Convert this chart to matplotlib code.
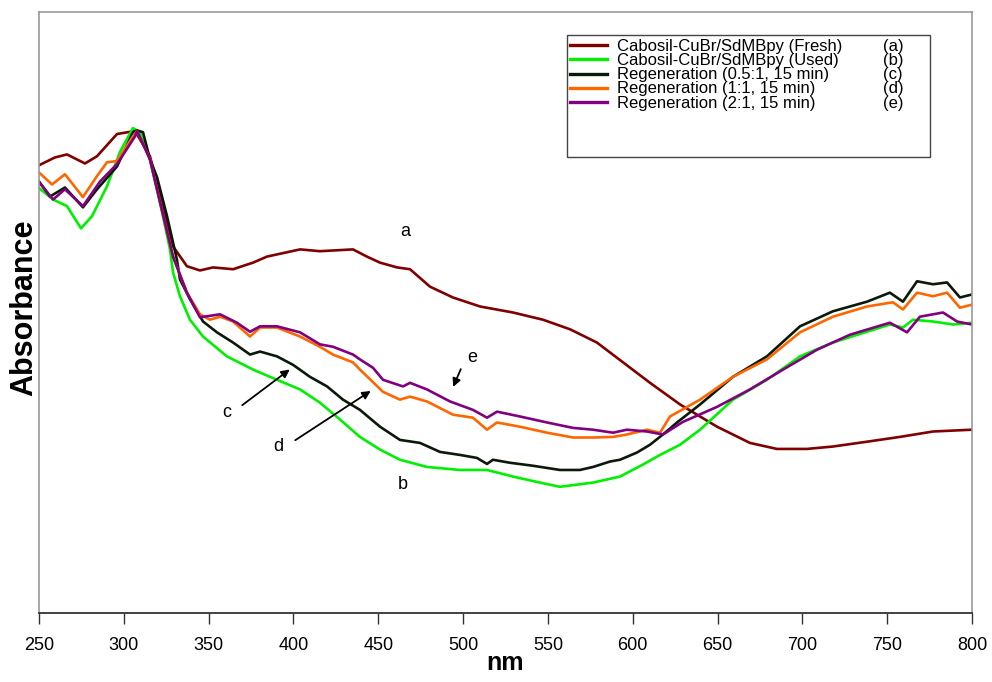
"""
UV-Vis spectra of the Cabosil-CuBr/SdMBpy catalyst: fresh, used and
regenerated samples. Writes out.png.
"""

import matplotlib

matplotlib.use("Agg")
import matplotlib.pyplot as plt
from matplotlib.patches import Rectangle

# wavelength (nm) / absorbance (a.u.) pairs for each sample
FRESH_NM = [250, 259.4, 266.5, 277.1, 284.2, 296, 306.6, 315.4, 323.1, 329,
            337.2, 344.9, 352.6, 364.4, 376.2, 384.4, 403.9, 415.6, 435.1,
            443.3, 451, 461.1, 468.7, 480.5, 494, 510, 529.4, 547.1, 563.1,
            578.9, 594.3, 610.2, 627.9, 649.7, 669.1, 685, 702.7, 718, 738.1,
            757.5, 777, 800]
FRESH_ABS = [0.745, 0.758, 0.763, 0.748, 0.760, 0.797, 0.802, 0.760, 0.677,
             0.610, 0.577, 0.570, 0.575, 0.572, 0.583, 0.593, 0.605, 0.602,
             0.605, 0.593, 0.583, 0.575, 0.572, 0.543, 0.525, 0.510, 0.500,
             0.488, 0.472, 0.450, 0.417, 0.383, 0.347, 0.310, 0.283, 0.273,
             0.273, 0.277, 0.285, 0.293, 0.302, 0.305]

USED_NM = [250, 258.3, 266.5, 274.8, 281.2, 290.1, 297.7, 305.4, 309.5, 315.4,
           323.1, 327.2, 329, 333.1, 339, 346.7, 360.8, 376.2, 390.3, 403.9,
           415.6, 427.4, 439.2, 451, 462.8, 478.7, 498.2, 514.1, 529.4, 545.3,
           557.1, 576.6, 592.5, 606, 616.1, 627.9, 639.7, 659.1, 679.1, 698.6,
           718, 738.1, 751.6, 759.3, 765.2, 777, 788.8, 800]
USED_ABS = [0.707, 0.688, 0.677, 0.640, 0.660, 0.710, 0.767, 0.807, 0.800,
            0.755, 0.660, 0.605, 0.567, 0.527, 0.488, 0.460, 0.427, 0.405,
            0.388, 0.372, 0.350, 0.322, 0.293, 0.272, 0.255, 0.243, 0.238,
            0.238, 0.227, 0.217, 0.210, 0.217, 0.227, 0.247, 0.263, 0.280,
            0.305, 0.355, 0.388, 0.427, 0.450, 0.468, 0.480, 0.475, 0.488,
            0.485, 0.480, 0.483]

REGEN_05_NM = [250, 256.5, 265.3, 275.9, 284.2, 296, 305.4, 307.8, 311.3,
               315.4, 319.6, 325.5, 331.3, 333.1, 339, 346.7, 354.9, 364.4,
               374.4, 380.3, 390.3, 399.7, 409.7, 419.8, 429.2, 439.2, 451,
               462.8, 474.6, 486.4, 498.2, 508.2, 514.1, 517.6, 527.6, 541.2,
               557.1, 568.9, 576.6, 586.6, 592.5, 602.5, 610.2, 617.8, 626.1,
               639.7, 659.1, 679.1, 698.6, 718, 738.1, 751.6, 759.3, 767.6,
               777, 785.3, 792.9, 800]
REGEN_05_ABS = [0.718, 0.693, 0.708, 0.675, 0.705, 0.743, 0.800, 0.803, 0.800,
                0.755, 0.725, 0.660, 0.588, 0.555, 0.522, 0.485, 0.467, 0.450,
                0.430, 0.435, 0.427, 0.413, 0.393, 0.377, 0.355, 0.338, 0.310,
                0.288, 0.283, 0.268, 0.263, 0.258, 0.248, 0.255, 0.250, 0.245,
                0.238, 0.238, 0.243, 0.252, 0.255, 0.267, 0.280, 0.297, 0.317,
                0.347, 0.393, 0.427, 0.477, 0.502, 0.518, 0.533, 0.518, 0.552,
                0.547, 0.550, 0.525, 0.530]

REGEN_1_NM = [250, 257.7, 265.3, 275.9, 284.2, 290.1, 296, 305.4, 307.8,
              315.4, 323.1, 329, 337.2, 344.9, 350.8, 356.7, 364.4, 374.4,
              380.3, 390.3, 403.9, 415.6, 423.3, 435.1, 439.2, 452.8, 462.8,
              468.7, 478.7, 494, 505.8, 514.1, 520, 533.5, 549.5, 564.8, 576.6,
              588.4, 596.6, 608.4, 616.1, 622, 639.7, 659.1, 679.1, 698.6, 718,
              738.1, 753.4, 759.3, 767.6, 777, 785.3, 792.9, 800]
REGEN_1_ABS = [0.733, 0.713, 0.730, 0.692, 0.727, 0.750, 0.752, 0.793, 0.802,
               0.755, 0.663, 0.593, 0.533, 0.497, 0.488, 0.493, 0.485, 0.460,
               0.475, 0.475, 0.460, 0.443, 0.430, 0.417, 0.405, 0.368, 0.355,
               0.360, 0.352, 0.330, 0.325, 0.305, 0.317, 0.310, 0.300, 0.292,
               0.292, 0.293, 0.297, 0.305, 0.300, 0.327, 0.355, 0.393, 0.422,
               0.467, 0.493, 0.510, 0.517, 0.505, 0.533, 0.527, 0.533, 0.508,
               0.513]

REGEN_2_NM = [250, 258.3, 265.3, 275.9, 286, 296, 306.6, 307.8, 315.4, 323.1,
              329, 337.2, 344.9, 356.7, 366.7, 374.4, 380.3, 390.3, 403.9,
              415.6, 423.3, 435.1, 439.2, 446.9, 452.8, 464.6, 468.7, 478.7,
              492.3, 505.8, 514.1, 520, 533.5, 549.5, 564.8, 576.6, 588.4,
              596.6, 608.4, 617.8, 629.6, 649.7, 669.1, 688.6, 708.6, 728,
              751.6, 761.7, 769.3, 782.9, 791.2, 800]
REGEN_2_ABS = [0.717, 0.688, 0.705, 0.677, 0.718, 0.747, 0.793, 0.802, 0.755,
               0.663, 0.593, 0.533, 0.492, 0.497, 0.483, 0.468, 0.477, 0.477,
               0.467, 0.447, 0.443, 0.430, 0.422, 0.408, 0.388, 0.377, 0.383,
               0.372, 0.352, 0.338, 0.325, 0.335, 0.327, 0.317, 0.308, 0.305,
               0.300, 0.305, 0.302, 0.297, 0.318, 0.343, 0.372, 0.405, 0.438,
               0.463, 0.483, 0.467, 0.493, 0.500, 0.485, 0.480]

LABELS = ["Cabosil-CuBr/SdMBpy (Fresh)", "Cabosil-CuBr/SdMBpy (Used)",
          "Regeneration (0.5:1, 15 min)", "Regeneration (1:1, 15 min)",
          "Regeneration (2:1, 15 min)"]
TAGS = ["(a)", "(b)", "(c)", "(d)", "(e)"]
COLORS = ["#800000", "#00F000", "#0a1a0a", "#FF6600", "#800080"]
X_TICKS = list(range(250, 801, 50))


def main():
    plt.rcParams["font.family"] = ["Liberation Sans", "DejaVu Sans"]

    fig = plt.figure(figsize=(9.92, 6.82), dpi=100)
    ax = fig.add_axes([39 / 992, 69 / 682, 933 / 992, 601 / 682])

    series = [(FRESH_NM, FRESH_ABS), (USED_NM, USED_ABS),
              (REGEN_05_NM, REGEN_05_ABS), (REGEN_1_NM, REGEN_1_ABS),
              (REGEN_2_NM, REGEN_2_ABS)]
    lines = []
    for (nm, ab), color, label in zip(series, COLORS, LABELS):
        (ln,) = ax.plot(nm, ab, color=color, lw=1.9, label=label,
                        solid_joinstyle="round")
        lines.append(ln)

    ax.set_xlim(250, 800)
    ax.set_ylim(0, 1.0)
    ax.set_xticks(X_TICKS)
    ax.set_yticks([])
    ax.tick_params(axis="x", direction="out", length=8, width=1,
                   color="#333333", pad=9, labelsize=13)
    for side in ("left", "top", "right"):
        ax.spines[side].set_color("#999999")
        ax.spines[side].set_linewidth(1.2)
    ax.spines["bottom"].set_color("#333333")
    ax.spines["bottom"].set_linewidth(1.3)

    ax.set_xlabel("nm", fontsize=18, fontweight="bold", va="baseline")
    ax.xaxis.set_label_coords(0.5, -57 / 601)
    ax.set_ylabel("Absorbance", fontsize=22, fontweight="bold", va="baseline")
    ax.yaxis.set_label_coords(-7 / 933, 0.5 + 5 / 601)

    # curve labels and pointer arrows
    txt = dict(fontsize=13, ha="center", va="center")
    ax.text(465.8, 0.635, "a", **txt)
    ax.text(464.6, 0.213, "b", **txt)
    ax.text(360.8, 0.333, "c", **txt)
    ax.text(390.9, 0.277, "d", **txt)
    ax.text(505.2, 0.425, "e", **txt)
    arrow = dict(arrowstyle="-|>", color="black", lw=1.3, mutation_scale=12)
    ax.annotate("", xy=(399.1, 0.408), xytext=(368.5, 0.343), arrowprops=arrow)
    ax.annotate("", xy=(446.9, 0.372), xytext=(399.7, 0.285), arrowprops=arrow)
    ax.annotate("", xy=(493.5, 0.372), xytext=(499.3, 0.410), arrowprops=arrow)

    # legend: frame drawn separately so the (a)-(e) tags fit inside it
    leg = ax.legend(lines, LABELS, loc="upper left", frameon=False,
                    bbox_to_anchor=(570 / 992, 1 - 39 / 682),
                    bbox_transform=fig.transFigure, borderpad=0,
                    borderaxespad=0, fontsize=12, handlelength=2.2,
                    handletextpad=0.6, labelspacing=-0.05)
    for h in leg.legend_handles:
        h.set_linewidth(2.4)
    fig.add_artist(Rectangle((567 / 992, 1 - 157 / 682), 363 / 992,
                             122 / 682, transform=fig.transFigure,
                             fill=False, edgecolor="#444444", lw=1))
    fig.canvas.draw()
    for text, tag in zip(leg.get_texts(), TAGS):
        bb = text.get_window_extent()
        fig.text(883 / 992, (bb.y0 + bb.y1) / 2 / fig.bbox.height, tag,
                 fontsize=12, ha="left", va="center")

    fig.savefig("out.png", dpi=100)
    plt.close(fig)


if __name__ == "__main__":
    main()
